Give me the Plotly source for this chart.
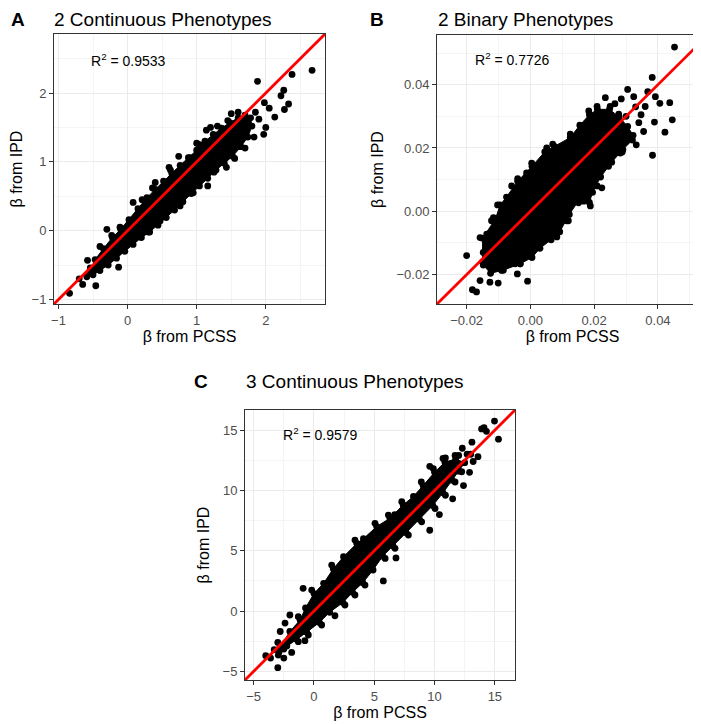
import plotly.graph_objects as go

W, H = 701, 724

# ---------------- Panel A : 2 Continuous Phenotypes ----------------
# dense core of the point cloud (outline of the solid black band)
A_core_x = [-0.55, -0.47, -0.35, -0.22, -0.10, 0.02, 0.15, 0.28, 0.40, 0.52, 0.64, 0.76, 0.88, 1.00,
            1.12, 1.24, 1.36, 1.48, 1.60, 1.70, 1.78, 1.80, 1.74, 1.64, 1.52, 1.40, 1.28, 1.16,
            1.04, 0.92, 0.80, 0.68, 0.56, 0.44, 0.32, 0.20, 0.08, -0.04, -0.16, -0.28, -0.40, -0.50]
A_core_y = [-0.60, -0.42, -0.26, -0.10, 0.02, 0.16, 0.32, 0.48, 0.60, 0.72, 0.83, 0.95, 1.06, 1.17,
            1.30, 1.40, 1.49, 1.57, 1.64, 1.68, 1.64, 1.52, 1.36, 1.22, 1.08, 0.98, 0.88, 0.76,
            0.65, 0.54, 0.42, 0.30, 0.19, 0.08, -0.02, -0.10, -0.20, -0.30, -0.40, -0.50, -0.58, -0.64]
# individual points around the band and outliers
A_pts_x = [2.67, 2.38, 1.88, 2.26, 2.22, 2.33, 2.27, 2.13, 2.05, 1.98, 2.00, 1.97, 1.90, 1.85, 1.83,
           1.70, 1.43, 1.16, 1.25, 1.14, 1.30, 1.00, 1.04, 0.74, 0.62, 0.90, 0.76, 0.80, 0.47, 0.55,
           0.18, 0.10, 0.36, 0.21, 0.08, -0.11, -0.30, -0.23, -0.40, -0.13, -0.46, -0.65, -0.84,
           -0.58, -0.54, -0.59, -0.42, -0.70, 1.50, 1.60, 1.66, 1.55, 1.35, 0.95, 0.30, 0.40, 0.60,
           1.20, 1.45]
A_pts_y = [2.33, 2.27, 2.17, 2.04, 1.96, 1.84, 1.76, 1.65, 1.78, 1.86, 1.50, 1.40, 1.62, 1.72, 1.36,
           1.20, 0.92, 0.65, 0.85, 1.46, 1.52, 1.27, 1.25, 1.08, 0.88, 1.06, 0.36, 0.50, 0.14, 0.30,
           -0.09, -0.12, 0.62, 0.45, 0.41, 0.05, 0.02, -0.07, -0.23, -0.53, -0.80, -0.78, -0.91,
           -0.43, -0.54, -0.67, -0.56, -0.70, 1.70, 1.72, 1.50, 1.05, 1.00, 0.55, -0.02, 0.70, 0.92,
           1.50, 1.60]
A_range = [-1.065, 2.857]
A_ticks = [-1, 0, 1, 2]
A_minor = [-0.5, 0.5, 1.5, 2.5]
A_r2 = "0.9533"
A_r2_pos = (0.01, 2.48)

# ---------------- Panel B : 2 Binary Phenotypes ----------------
B_core_x = [-0.0150, -0.0150, -0.0110, -0.0095, -0.0075, -0.0040, 0.0005, 0.0045, 0.0075, 0.0125,
            0.0155, 0.0185, 0.0210, 0.0248, 0.0278, 0.0305, 0.0322, 0.0320, 0.0290, 0.0255, 0.0220,
            0.0195, 0.0185, 0.0150, 0.0122, 0.0092, 0.0065, 0.0030, 0.0005, -0.0032, -0.0085,
            -0.0125, -0.0148]
B_core_y = [-0.0160, -0.0085, -0.0025, 0.0020, 0.0045, 0.0095, 0.0142, 0.0188, 0.0205, 0.0233,
            0.0272, 0.0305, 0.0322, 0.0322, 0.0298, 0.0268, 0.0240, 0.0225, 0.0195, 0.0155, 0.0108,
            0.0060, 0.0028, 0.0032, -0.0010, -0.0065, -0.0090, -0.0117, -0.0146, -0.0166, -0.0186,
            -0.0196, -0.0170]
B_pts_x = [0.0452, 0.0382, 0.0305, 0.0368, 0.0392, 0.0437, 0.0406, 0.0445, 0.0422, 0.0383, 0.0355,
           0.0389, 0.0332, 0.0288, 0.0235, 0.0324, 0.0360, 0.0347, 0.0282, 0.0224, 0.0167,
           -0.0200, -0.0182, -0.0169, -0.0158, -0.0127, -0.0101, -0.0009, -0.0041, -0.0090,
           -0.0103, -0.0040, 0.0004, 0.0051, 0.0070, 0.0125, 0.0183, 0.0209, 0.0250, 0.0277,
           0.0151, 0.0188, 0.0167, 0.0209, 0.0219, 0.0245, 0.0271, 0.0119, 0.0083, 0.0020, -0.0032,
           -0.0116, -0.0158, -0.0148, -0.0012, -0.0059, -0.0122, -0.0137, -0.0143, -0.0085, -0.0048,
           -0.0012, 0.0051, 0.0078, 0.0114, 0.0285, 0.0265, 0.0330, 0.0300, 0.0340]
B_pts_y = [0.0519, 0.0423, 0.0385, 0.0378, 0.0362, 0.0343, 0.0341, 0.0289, 0.0250, 0.0177, 0.0252,
           0.0282, 0.0210, 0.0187, 0.0359, 0.0362, 0.0331, 0.0305, 0.0184, 0.0074, 0.0032,
           -0.0140, -0.0248, -0.0255, -0.0219, -0.0224, -0.0227, -0.0221, -0.0198, -0.0187,
           0.0020, 0.0103, 0.0152, 0.0200, 0.0212, 0.0244, 0.0317, 0.0331, 0.0331, 0.0307,
           0.0027, 0.0017, 0.0064, 0.0080, 0.0111, 0.0142, 0.0200, -0.0030, -0.0081, -0.0114, -0.0166,
           -0.0020, -0.0083, -0.0130, 0.0121, 0.0080, -0.0030, -0.0072, -0.0135, -0.0172, -0.0166,
           -0.0125, -0.0083, -0.0062, -0.0030, 0.0355, 0.0340, 0.0330, 0.0300, 0.0280]
B_range = [-0.0293, 0.0557]
B_ticks = [-0.02, 0.0, 0.02, 0.04]
B_minor = [-0.01, 0.01, 0.03, 0.05]
B_r2 = "0.7726"
B_r2_pos = (-0.0057, 0.0480)

# ---------------- Panel C : 3 Continuous Phenotypes ----------------
C_core_x = [-2.8, -2.0, -1.15, -0.7, 0.0, 0.8, 1.6, 2.45, 3.55, 4.1, 5.2, 6.3, 7.4, 8.25, 9.05, 10.0,
            10.85, 11.75, 12.5, 12.0, 11.45, 10.7, 9.85, 8.75, 7.65, 6.55, 5.7, 4.9, 4.05, 3.2, 2.4,
            1.3, 0.45, -0.6, -1.45, -2.25, -2.9]
C_core_y = [-3.0, -1.7, -0.75, 0.25, 1.45, 2.3, 3.5, 4.5, 5.6, 6.0, 7.0, 7.7, 8.8, 9.5, 10.4, 11.5,
            12.35, 12.6, 12.3, 11.6, 10.85, 9.8, 8.75, 7.6, 6.5, 5.4, 4.55, 3.4, 2.35, 1.55, 0.7,
            -0.1, -0.95, -1.75, -2.35, -2.9, -3.4]
C_pts_x = [14.97, 15.30, 13.9, 14.3, 14.1, 13.1, 13.6, 12.3, 12.7, 12.9, 12.4, 11.5, 10.4, 9.6, 6.8,
           5.75, 9.6, 6.7, 1.74, -0.75, -1.85, -3.0, -4.0, -3.6, -2.5, -2.5, -2.4, -2.8, -2.0, -0.9,
           -1.3, -0.19, 1.47, 3.4, 5.06, 6.17, 7.28, 8.9, 9.9, 10.7, 11.7, 12.0, 13.0, 13.2,
           12.25, 11.7, 10.9, 10.04, 8.93, 7.83, 6.72, 5.9, 4.23, 3.4, 2.57, 0.64, -0.47, -1.3,
           -2.96, -3.3, -3.0, 10.9]
C_pts_y = [15.75, 14.25, 15.1, 14.9, 15.2, 14.0, 12.8, 13.5, 13.0, 11.5, 10.4, 9.3, 8.0, 6.7, 4.4,
           2.5, 12.0, 8.0, -0.39, -2.46, -3.43, -4.7, -3.7, -3.9, -3.15, -3.9, -1.0, -1.7, -0.33, 1.88,
           -0.47, 1.74, 3.81, 5.88, 7.27, 7.96, 9.06, 10.7, 11.8, 12.65, 12.9, 12.9, 13.0, 12.4,
           11.55, 10.7, 9.6, 8.5, 7.4, 6.3, 5.2, 4.36, 2.15, 1.33, 0.5, -1.16, -1.99, -2.54,
           -3.65, -3.2, -2.6, 12.7]
C_range = [-5.72, 16.67]
C_ticks = [-5, 0, 5, 10, 15]
C_minor = [-2.5, 2.5, 7.5, 12.5]
C_r2 = "0.9579"
C_r2_pos = (0.56, 14.7)

# reference line y = x
abline_slope = 1.0
abline_intercept = 0.0

X_TITLE = "β from PCSS"
Y_TITLE = "β from IPD"

panels = [
    dict(letter="A", title="2 Continuous Phenotypes", core=(A_core_x, A_core_y), pts=(A_pts_x, A_pts_y),
         rng=A_range, ticks=A_ticks, minor=A_minor, fmt="d", r2=A_r2, r2pos=A_r2_pos,
         box=(46, 317, 26, 296), letter_x=10, title_x=45, title_top=0, ystand=8),
    dict(letter="B", title="2 Binary Phenotypes", core=(B_core_x, B_core_y), pts=(B_pts_x, B_pts_y),
         rng=B_range, ticks=B_ticks, minor=B_minor, fmt=".2f", r2=B_r2, r2pos=B_r2_pos,
         box=(429, 700, 27, 296), letter_x=369, title_x=429, title_top=0, ystand=8),
    dict(letter="C", title="3 Continuous Phenotypes", core=(C_core_x, C_core_y), pts=(C_pts_x, C_pts_y),
         rng=C_range, ticks=C_ticks, minor=C_minor, fmt="d", r2=C_r2, r2pos=C_r2_pos,
         box=(237, 507, 402, 672), letter_x=193, title_x=237, title_top=362, ystand=8),
]

FONT = "Liberation Sans, Arial, Helvetica, sans-serif"
fig = go.Figure()
annotations = []

for i, p in enumerate(panels):
    sfx = "" if i == 0 else str(i + 1)
    xa, ya = "x" + sfx, "y" + sfx
    cx, cy = p["core"]
    # solid dense core
    fig.add_trace(go.Scatter(x=cx + [cx[0]], y=cy + [cy[0]], mode="lines", fill="toself",
                             fillcolor="black", line=dict(color="black", width=1),
                             xaxis=xa, yaxis=ya, showlegend=False, hoverinfo="skip"))
    # points on the edge of the core
    fig.add_trace(go.Scatter(x=cx, y=cy, mode="markers", marker=dict(color="black", size=6.8),
                             xaxis=xa, yaxis=ya, showlegend=False))
    # scattered points
    px_, py_ = p["pts"]
    fig.add_trace(go.Scatter(x=px_, y=py_, mode="markers", marker=dict(color="black", size=6.8),
                             xaxis=xa, yaxis=ya, showlegend=False))
    # y = x line across the panel
    lo, hi = p["rng"]
    fig.add_trace(go.Scatter(x=[lo, hi], y=[abline_intercept + abline_slope * lo,
                                             abline_intercept + abline_slope * hi],
                             mode="lines", line=dict(color="#ff0000", width=2.8),
                             xaxis=xa, yaxis=ya, showlegend=False, hoverinfo="skip"))

    x0, x1, y0, y1 = p["box"]
    common = dict(range=p["rng"], tickvals=p["ticks"], tickformat=p["fmt"],
                  showline=True, mirror=True, linecolor="#333333", linewidth=1,
                  ticks="outside", ticklen=4, tickcolor="#333333", tickwidth=1,
                  showgrid=True, gridcolor="#ebebeb", gridwidth=1, zeroline=False,
                  tickfont=dict(size=13, color="#4d4d4d", family=FONT),
                  minor=dict(tickvals=p["minor"], showgrid=True, gridcolor="#f4f4f4",
                             gridwidth=0.6, ticklen=0),
                  automargin=False, fixedrange=True)
    fig.layout["xaxis" + sfx] = dict(domain=[x0 / W, x1 / W], anchor=ya,
                                     title=dict(text=X_TITLE, standoff=2,
                                                font=dict(size=16, color="black", family=FONT)),
                                     **common)
    fig.layout["yaxis" + sfx] = dict(domain=[1 - y1 / H, 1 - y0 / H], anchor=xa,
                                     title=dict(text=Y_TITLE, standoff=p["ystand"],
                                                font=dict(size=16, color="black", family=FONT)),
                                     **common)

    # panel letter and title
    annotations.append(dict(text="<b>%s</b>" % p["letter"], x=p["letter_x"] / W, y=1 - p["title_top"] / H,
                            xref="paper", yref="paper", xanchor="center", yanchor="top", borderpad=0,
                            showarrow=False, font=dict(size=19, color="black", family=FONT)))
    annotations.append(dict(text=p["title"], x=p["title_x"] / W, y=1 - p["title_top"] / H,
                            xref="paper", yref="paper", xanchor="left", yanchor="top", borderpad=0,
                            showarrow=False, font=dict(size=19, color="black", family=FONT)))
    # R^2 label
    annotations.append(dict(text="R<sup>2</sup> = " + p["r2"], x=p["r2pos"][0], y=p["r2pos"][1],
                            xref=xa, yref=ya, xanchor="center", yanchor="middle",
                            showarrow=False, font=dict(size=14, color="black", family=FONT)))

fig.update_layout(width=W, height=H, margin=dict(l=0, r=0, t=0, b=0),
                  paper_bgcolor="white", plot_bgcolor="white",
                  font=dict(family=FONT), annotations=annotations, showlegend=False)

fig.write_html("out.html")
